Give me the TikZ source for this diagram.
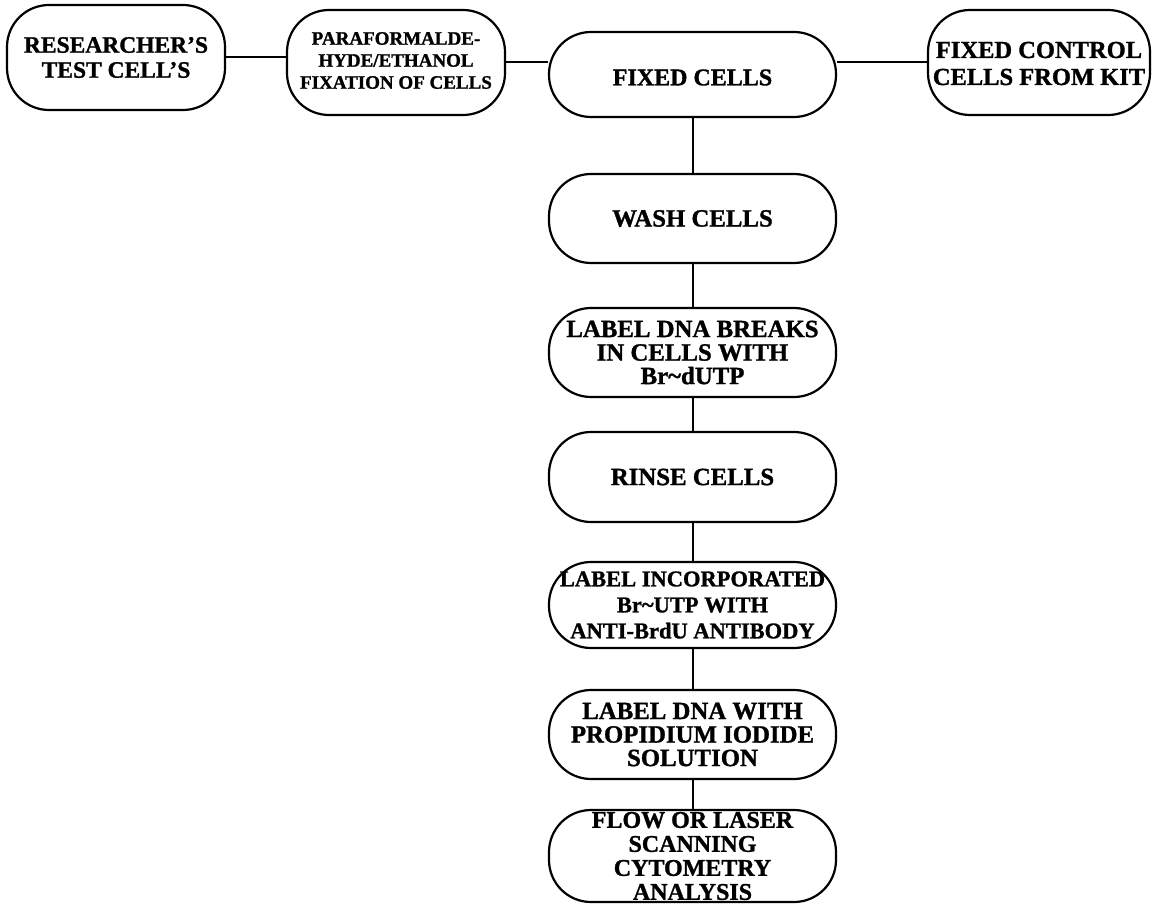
\documentclass[tikz,border=0pt]{standalone}
\usepackage{fontspec}
\setmainfont{Liberation Serif}[BoldFeatures={FakeBold=1.2}]
\begin{document}
\begin{tikzpicture}[x=1pt,y=-1pt,
  box/.style={draw, line width=2.2pt, rounded corners=42pt, inner sep=0pt, minimum width=287pt},
  txt/.style={font=\bfseries\fontsize{24.8}{23.5}\selectfont, align=center, inner sep=0pt},
  conn/.style={line width=2pt}]
\useasboundingbox (0,0) rectangle (1153,904);
% top row
\node[box, minimum width=218pt, minimum height=105pt] (A) at (116,57.5) {};
\node[box, minimum width=218pt, minimum height=105pt] (B) at (396,62.5) {};
\node[box, minimum height=85pt] (C) at (692.5,74.5) {};
\node[box, minimum width=222pt, minimum height=105pt] (D) at (1039,62.5) {};
% column
\node[box, minimum height=89pt] (wash) at (692.5,218.5) {};
\node[box, minimum height=89pt] (breaks) at (692.5,352.5) {};
\node[box, minimum height=90pt] (rinse) at (692.5,477) {};
\node[box, minimum height=86pt] (incorp) at (692.5,605) {};
\node[box, minimum height=89pt] (prop) at (692.5,734.5) {};
\node[box, minimum height=92pt] (flow) at (692.5,856) {};
% texts
\node[txt, font=\bfseries\fontsize{23.5}{25}\selectfont] (tA) at (A.center) {RESEARCHER’S\\TEST CELL’S};
\node[txt, font=\bfseries\fontsize{19}{22}\selectfont] (tB) at ([yshift=2pt]B.center) {PARAFORMALDE-\\HYDE/ETHANOL\\FIXATION OF CELLS};
\node[txt, font=\bfseries\fontsize{24}{24}\selectfont] (tC) at ([yshift=-3pt]C.center) {FIXED CELLS};
\node[txt, font=\bfseries\fontsize{24.5}{27}\selectfont] (tD) at ([yshift=-1pt]D.center) {FIXED CONTROL\\CELLS FROM KIT};
\node[txt] (tw) at (wash.center) {WASH CELLS};
\node[txt] (tb) at (breaks.center) {LABEL DNA BREAKS\\IN CELLS WITH\\Br\textasciitilde dUTP};
\node[txt] (tr) at (rinse.center) {RINSE CELLS};
\node[txt, font=\bfseries\fontsize{22.5}{26}\selectfont] (ti) at (incorp.center) {LABEL INCORPORATED\\Br\textasciitilde UTP WITH\\ANTI-BrdU ANTIBODY};
\node[txt] (tp) at (prop.center) {LABEL DNA WITH\\PROPIDIUM IODIDE\\SOLUTION};
\node[txt, font=\bfseries\fontsize{24}{24}\selectfont] (tf) at (flow.center) {FLOW OR LASER\\SCANNING\\CYTOMETRY\\ANALYSIS};
% connectors
\draw[conn] (A.east) -- (A.east -| B.west);
\draw[conn] (B.east) -- (B.east -| C.west);
\draw[conn] (D.west -| C.east) -- (D.west);
\draw[conn] (C.south) -- (wash.north);
\draw[conn] (wash.south) -- (breaks.north);
\draw[conn] (breaks.south) -- (rinse.north);
\draw[conn] (rinse.south) -- (incorp.north);
\draw[conn] (incorp.south) -- (prop.north);
\draw[conn] (prop.south) -- (flow.north);
\end{tikzpicture}
\end{document}
